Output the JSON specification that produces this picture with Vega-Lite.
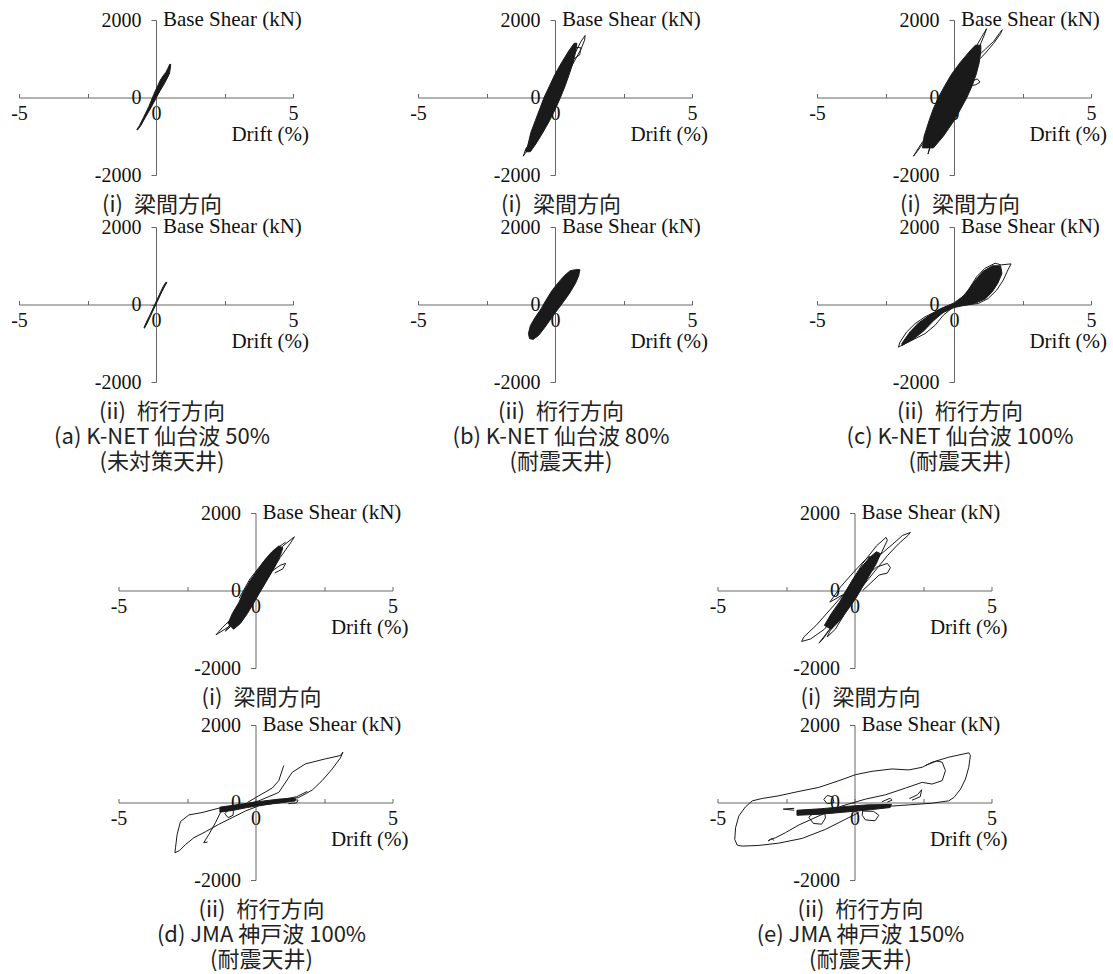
{
  "$schema": "https://vega.github.io/schema/vega-lite/v6.json",
  "background": "white",
  "padding": {"left": 10, "top": 9, "right": 5, "bottom": 5},
  "config": {"view": {"stroke": null}, "font": "Liberation Serif"},
  "datasets": {
    "top": [
      {"case": "a", "dir": "i", "caption": "(i)\u2002梁間方向"},
      {"case": "a", "dir": "ii", "caption": "(ii)\u2002桁行方向\n(a) K-NET 仙台波 50%\n(未対策天井)"},
      {"case": "b", "dir": "i", "caption": "(i)\u2002梁間方向"},
      {"case": "b", "dir": "ii", "caption": "(ii)\u2002桁行方向\n(b) K-NET 仙台波 80%\n(耐震天井)"},
      {"case": "c", "dir": "i", "caption": "(i)\u2002梁間方向"},
      {"case": "c", "dir": "ii", "caption": "(ii)\u2002桁行方向\n(c) K-NET 仙台波 100%\n(耐震天井)"},

      {"case": "a", "dir": "i", "seg": "a1c", "part": "core", "drift": -0.67, "shear": -835},
      {"case": "a", "dir": "i", "seg": "a1c", "part": "core", "drift": -0.55, "shear": -720},
      {"case": "a", "dir": "i", "seg": "a1c", "part": "core", "drift": -0.38, "shear": -500},
      {"case": "a", "dir": "i", "seg": "a1c", "part": "core", "drift": -0.18, "shear": -260},
      {"case": "a", "dir": "i", "seg": "a1c", "part": "core", "drift": 0.0, "shear": -20},
      {"case": "a", "dir": "i", "seg": "a1c", "part": "core", "drift": 0.15, "shear": 180},
      {"case": "a", "dir": "i", "seg": "a1c", "part": "core", "drift": 0.3, "shear": 380},
      {"case": "a", "dir": "i", "seg": "a1c", "part": "core", "drift": 0.42, "shear": 520},
      {"case": "a", "dir": "i", "seg": "a1c", "part": "core", "drift": 0.5, "shear": 650},
      {"case": "a", "dir": "i", "seg": "a1c", "part": "core", "drift": 0.54, "shear": 850},
      {"case": "a", "dir": "i", "seg": "a1c", "part": "core", "drift": 0.5, "shear": 860},
      {"case": "a", "dir": "i", "seg": "a1c", "part": "core", "drift": 0.44, "shear": 760},
      {"case": "a", "dir": "i", "seg": "a1c", "part": "core", "drift": 0.36, "shear": 650},
      {"case": "a", "dir": "i", "seg": "a1c", "part": "core", "drift": 0.26, "shear": 560},
      {"case": "a", "dir": "i", "seg": "a1c", "part": "core", "drift": 0.16, "shear": 450},
      {"case": "a", "dir": "i", "seg": "a1c", "part": "core", "drift": 0.06, "shear": 300},
      {"case": "a", "dir": "i", "seg": "a1c", "part": "core", "drift": -0.08, "shear": 80},
      {"case": "a", "dir": "i", "seg": "a1c", "part": "core", "drift": -0.26, "shear": -230},
      {"case": "a", "dir": "i", "seg": "a1c", "part": "core", "drift": -0.46, "shear": -520},
      {"case": "a", "dir": "i", "seg": "a1c", "part": "core", "drift": -0.6, "shear": -720},
      {"case": "a", "dir": "i", "seg": "a1c", "part": "core", "drift": -0.7, "shear": -830},
      {"case": "a", "dir": "i", "seg": "a1c", "part": "core", "drift": -0.67, "shear": -835},
      {"case": "a", "dir": "i", "seg": "a1l", "part": "loop", "drift": -0.1, "shear": -100},
      {"case": "a", "dir": "i", "seg": "a1l", "part": "loop", "drift": 0.3, "shear": 350},
      {"case": "a", "dir": "i", "seg": "a1l", "part": "loop", "drift": 0.45, "shear": 560},
      {"case": "a", "dir": "i", "seg": "a1l", "part": "loop", "drift": 0.5, "shear": 640},
      {"case": "a", "dir": "i", "seg": "a1l", "part": "loop", "drift": 0.42, "shear": 600},
      {"case": "a", "dir": "i", "seg": "a1l", "part": "loop", "drift": 0.2, "shear": 300},
      {"case": "a", "dir": "i", "seg": "a1l", "part": "loop", "drift": -0.1, "shear": -100},

      {"case": "a", "dir": "ii", "seg": "a2c", "part": "core", "drift": -0.42, "shear": -610},
      {"case": "a", "dir": "ii", "seg": "a2c", "part": "core", "drift": -0.32, "shear": -480},
      {"case": "a", "dir": "ii", "seg": "a2c", "part": "core", "drift": -0.15, "shear": -220},
      {"case": "a", "dir": "ii", "seg": "a2c", "part": "core", "drift": 0.05, "shear": 80},
      {"case": "a", "dir": "ii", "seg": "a2c", "part": "core", "drift": 0.22, "shear": 340},
      {"case": "a", "dir": "ii", "seg": "a2c", "part": "core", "drift": 0.34, "shear": 500},
      {"case": "a", "dir": "ii", "seg": "a2c", "part": "core", "drift": 0.4, "shear": 570},
      {"case": "a", "dir": "ii", "seg": "a2c", "part": "core", "drift": 0.36, "shear": 575},
      {"case": "a", "dir": "ii", "seg": "a2c", "part": "core", "drift": 0.26, "shear": 460},
      {"case": "a", "dir": "ii", "seg": "a2c", "part": "core", "drift": 0.12, "shear": 250},
      {"case": "a", "dir": "ii", "seg": "a2c", "part": "core", "drift": -0.05, "shear": -10},
      {"case": "a", "dir": "ii", "seg": "a2c", "part": "core", "drift": -0.22, "shear": -270},
      {"case": "a", "dir": "ii", "seg": "a2c", "part": "core", "drift": -0.36, "shear": -470},
      {"case": "a", "dir": "ii", "seg": "a2c", "part": "core", "drift": -0.44, "shear": -600},
      {"case": "a", "dir": "ii", "seg": "a2c", "part": "core", "drift": -0.42, "shear": -610},

      {"case": "b", "dir": "i", "seg": "b1c", "part": "core", "drift": -1.05, "shear": -1400},
      {"case": "b", "dir": "i", "seg": "b1c", "part": "core", "drift": -0.98, "shear": -1200},
      {"case": "b", "dir": "i", "seg": "b1c", "part": "core", "drift": -0.88, "shear": -900},
      {"case": "b", "dir": "i", "seg": "b1c", "part": "core", "drift": -0.72, "shear": -600},
      {"case": "b", "dir": "i", "seg": "b1c", "part": "core", "drift": -0.56, "shear": -300},
      {"case": "b", "dir": "i", "seg": "b1c", "part": "core", "drift": -0.4, "shear": 0},
      {"case": "b", "dir": "i", "seg": "b1c", "part": "core", "drift": -0.2, "shear": 300},
      {"case": "b", "dir": "i", "seg": "b1c", "part": "core", "drift": 0.0, "shear": 600},
      {"case": "b", "dir": "i", "seg": "b1c", "part": "core", "drift": 0.24, "shear": 900},
      {"case": "b", "dir": "i", "seg": "b1c", "part": "core", "drift": 0.5, "shear": 1200},
      {"case": "b", "dir": "i", "seg": "b1c", "part": "core", "drift": 0.7, "shear": 1400},
      {"case": "b", "dir": "i", "seg": "b1c", "part": "core", "drift": 0.8, "shear": 1400},
      {"case": "b", "dir": "i", "seg": "b1c", "part": "core", "drift": 0.76, "shear": 1200},
      {"case": "b", "dir": "i", "seg": "b1c", "part": "core", "drift": 0.66, "shear": 900},
      {"case": "b", "dir": "i", "seg": "b1c", "part": "core", "drift": 0.52, "shear": 600},
      {"case": "b", "dir": "i", "seg": "b1c", "part": "core", "drift": 0.37, "shear": 300},
      {"case": "b", "dir": "i", "seg": "b1c", "part": "core", "drift": 0.2, "shear": 0},
      {"case": "b", "dir": "i", "seg": "b1c", "part": "core", "drift": 0.01, "shear": -300},
      {"case": "b", "dir": "i", "seg": "b1c", "part": "core", "drift": -0.2, "shear": -600},
      {"case": "b", "dir": "i", "seg": "b1c", "part": "core", "drift": -0.44, "shear": -900},
      {"case": "b", "dir": "i", "seg": "b1c", "part": "core", "drift": -0.7, "shear": -1200},
      {"case": "b", "dir": "i", "seg": "b1c", "part": "core", "drift": -0.9, "shear": -1400},
      {"case": "b", "dir": "i", "seg": "b1c", "part": "core", "drift": -1.05, "shear": -1400},
      {"case": "b", "dir": "i", "seg": "b1a", "part": "loop", "drift": -0.35, "shear": -400},
      {"case": "b", "dir": "i", "seg": "b1a", "part": "loop", "drift": -0.75, "shear": -1000},
      {"case": "b", "dir": "i", "seg": "b1a", "part": "loop", "drift": -1.0, "shear": -1350},
      {"case": "b", "dir": "i", "seg": "b1a", "part": "loop", "drift": -1.16, "shear": -1515},
      {"case": "b", "dir": "i", "seg": "b1a", "part": "loop", "drift": -1.1, "shear": -1400},
      {"case": "b", "dir": "i", "seg": "b1a", "part": "loop", "drift": -0.85, "shear": -1050},
      {"case": "b", "dir": "i", "seg": "b1a", "part": "loop", "drift": -0.5, "shear": -550},
      {"case": "b", "dir": "i", "seg": "b1b", "part": "loop", "drift": 0.3, "shear": 500},
      {"case": "b", "dir": "i", "seg": "b1b", "part": "loop", "drift": 0.7, "shear": 1100},
      {"case": "b", "dir": "i", "seg": "b1b", "part": "loop", "drift": 0.95, "shear": 1450},
      {"case": "b", "dir": "i", "seg": "b1b", "part": "loop", "drift": 1.1, "shear": 1600},
      {"case": "b", "dir": "i", "seg": "b1b", "part": "loop", "drift": 1.08, "shear": 1480},
      {"case": "b", "dir": "i", "seg": "b1b", "part": "loop", "drift": 0.95, "shear": 1250},
      {"case": "b", "dir": "i", "seg": "b1b", "part": "loop", "drift": 0.6, "shear": 800},
      {"case": "b", "dir": "i", "seg": "b1e", "part": "loop", "drift": 0.55, "shear": 1000},
      {"case": "b", "dir": "i", "seg": "b1e", "part": "loop", "drift": 0.6, "shear": 1200},
      {"case": "b", "dir": "i", "seg": "b1e", "part": "loop", "drift": 0.75, "shear": 1300},
      {"case": "b", "dir": "i", "seg": "b1e", "part": "loop", "drift": 0.95, "shear": 1280},
      {"case": "b", "dir": "i", "seg": "b1e", "part": "loop", "drift": 0.9, "shear": 1100},
      {"case": "b", "dir": "i", "seg": "b1e", "part": "loop", "drift": 0.7, "shear": 1000},
      {"case": "b", "dir": "i", "seg": "b1e", "part": "loop", "drift": 0.55, "shear": 1000},
      {"case": "b", "dir": "i", "seg": "b1d", "part": "loop", "drift": -0.7, "shear": -1100},
      {"case": "b", "dir": "i", "seg": "b1d", "part": "loop", "drift": -0.9, "shear": -1250},
      {"case": "b", "dir": "i", "seg": "b1d", "part": "loop", "drift": -1.1, "shear": -1390},
      {"case": "b", "dir": "i", "seg": "b1d", "part": "loop", "drift": -1.05, "shear": -1300},
      {"case": "b", "dir": "i", "seg": "b1d", "part": "loop", "drift": -0.85, "shear": -1150},

      {"case": "c", "dir": "i", "seg": "c1c", "part": "core", "drift": -1.15, "shear": -1300},
      {"case": "c", "dir": "i", "seg": "c1c", "part": "core", "drift": -1.09, "shear": -1000},
      {"case": "c", "dir": "i", "seg": "c1c", "part": "core", "drift": -0.91, "shear": -600},
      {"case": "c", "dir": "i", "seg": "c1c", "part": "core", "drift": -0.76, "shear": -300},
      {"case": "c", "dir": "i", "seg": "c1c", "part": "core", "drift": -0.57, "shear": 0},
      {"case": "c", "dir": "i", "seg": "c1c", "part": "core", "drift": -0.34, "shear": 300},
      {"case": "c", "dir": "i", "seg": "c1c", "part": "core", "drift": -0.09, "shear": 600},
      {"case": "c", "dir": "i", "seg": "c1c", "part": "core", "drift": 0.22, "shear": 900},
      {"case": "c", "dir": "i", "seg": "c1c", "part": "core", "drift": 0.58, "shear": 1200},
      {"case": "c", "dir": "i", "seg": "c1c", "part": "core", "drift": 0.78, "shear": 1350},
      {"case": "c", "dir": "i", "seg": "c1c", "part": "core", "drift": 0.98, "shear": 1350},
      {"case": "c", "dir": "i", "seg": "c1c", "part": "core", "drift": 0.98, "shear": 1200},
      {"case": "c", "dir": "i", "seg": "c1c", "part": "core", "drift": 0.92, "shear": 900},
      {"case": "c", "dir": "i", "seg": "c1c", "part": "core", "drift": 0.81, "shear": 600},
      {"case": "c", "dir": "i", "seg": "c1c", "part": "core", "drift": 0.66, "shear": 300},
      {"case": "c", "dir": "i", "seg": "c1c", "part": "core", "drift": 0.47, "shear": 0},
      {"case": "c", "dir": "i", "seg": "c1c", "part": "core", "drift": 0.24, "shear": -300},
      {"case": "c", "dir": "i", "seg": "c1c", "part": "core", "drift": 0.0, "shear": -600},
      {"case": "c", "dir": "i", "seg": "c1c", "part": "core", "drift": -0.39, "shear": -1000},
      {"case": "c", "dir": "i", "seg": "c1c", "part": "core", "drift": -0.75, "shear": -1300},
      {"case": "c", "dir": "i", "seg": "c1c", "part": "core", "drift": -1.15, "shear": -1300},
      {"case": "c", "dir": "i", "seg": "c1a", "part": "loop", "drift": 0.5, "shear": 900},
      {"case": "c", "dir": "i", "seg": "c1a", "part": "loop", "drift": 0.75, "shear": 1250},
      {"case": "c", "dir": "i", "seg": "c1a", "part": "loop", "drift": 1.0, "shear": 1550},
      {"case": "c", "dir": "i", "seg": "c1a", "part": "loop", "drift": 1.19, "shear": 1775},
      {"case": "c", "dir": "i", "seg": "c1a", "part": "loop", "drift": 1.1, "shear": 1600},
      {"case": "c", "dir": "i", "seg": "c1a", "part": "loop", "drift": 0.95, "shear": 1350},
      {"case": "c", "dir": "i", "seg": "c1a", "part": "loop", "drift": 0.75, "shear": 1100},
      {"case": "c", "dir": "i", "seg": "c1b", "part": "loop", "drift": 0.85, "shear": 1050},
      {"case": "c", "dir": "i", "seg": "c1b", "part": "loop", "drift": 1.15, "shear": 1250},
      {"case": "c", "dir": "i", "seg": "c1b", "part": "loop", "drift": 1.45, "shear": 1450},
      {"case": "c", "dir": "i", "seg": "c1b", "part": "loop", "drift": 1.65, "shear": 1650},
      {"case": "c", "dir": "i", "seg": "c1b", "part": "loop", "drift": 1.76, "shear": 1750},
      {"case": "c", "dir": "i", "seg": "c1b", "part": "loop", "drift": 1.7, "shear": 1650},
      {"case": "c", "dir": "i", "seg": "c1b", "part": "loop", "drift": 1.45, "shear": 1400},
      {"case": "c", "dir": "i", "seg": "c1b", "part": "loop", "drift": 1.15, "shear": 1150},
      {"case": "c", "dir": "i", "seg": "c1b", "part": "loop", "drift": 0.95, "shear": 1000},
      {"case": "c", "dir": "i", "seg": "c1d", "part": "loop", "drift": -0.8, "shear": -800},
      {"case": "c", "dir": "i", "seg": "c1d", "part": "loop", "drift": -1.1, "shear": -1150},
      {"case": "c", "dir": "i", "seg": "c1d", "part": "loop", "drift": -1.35, "shear": -1400},
      {"case": "c", "dir": "i", "seg": "c1d", "part": "loop", "drift": -1.48, "shear": -1515},
      {"case": "c", "dir": "i", "seg": "c1d", "part": "loop", "drift": -1.4, "shear": -1420},
      {"case": "c", "dir": "i", "seg": "c1d", "part": "loop", "drift": -1.2, "shear": -1200},
      {"case": "c", "dir": "i", "seg": "c1d", "part": "loop", "drift": -0.95, "shear": -950},
      {"case": "c", "dir": "i", "seg": "c1e", "part": "loop", "drift": -0.6, "shear": -800},
      {"case": "c", "dir": "i", "seg": "c1e", "part": "loop", "drift": -0.85, "shear": -1200},
      {"case": "c", "dir": "i", "seg": "c1e", "part": "loop", "drift": -0.95, "shear": -1460},
      {"case": "c", "dir": "i", "seg": "c1e", "part": "loop", "drift": -0.88, "shear": -1300},
      {"case": "c", "dir": "i", "seg": "c1e", "part": "loop", "drift": -0.78, "shear": -1100},
      {"case": "c", "dir": "i", "seg": "c1f", "part": "loop", "drift": 0.6, "shear": 400},
      {"case": "c", "dir": "i", "seg": "c1f", "part": "loop", "drift": 0.85, "shear": 480},
      {"case": "c", "dir": "i", "seg": "c1f", "part": "loop", "drift": 0.95, "shear": 400},
      {"case": "c", "dir": "i", "seg": "c1f", "part": "loop", "drift": 0.8, "shear": 330},
      {"case": "c", "dir": "i", "seg": "c1f", "part": "loop", "drift": 0.6, "shear": 300},

      {"case": "b", "dir": "ii", "seg": "b2c", "part": "core", "drift": -0.93, "shear": -880},
      {"case": "b", "dir": "ii", "seg": "b2c", "part": "core", "drift": -0.97, "shear": -750},
      {"case": "b", "dir": "ii", "seg": "b2c", "part": "core", "drift": -0.9, "shear": -550},
      {"case": "b", "dir": "ii", "seg": "b2c", "part": "core", "drift": -0.74, "shear": -350},
      {"case": "b", "dir": "ii", "seg": "b2c", "part": "core", "drift": -0.5, "shear": -100},
      {"case": "b", "dir": "ii", "seg": "b2c", "part": "core", "drift": -0.34, "shear": 100},
      {"case": "b", "dir": "ii", "seg": "b2c", "part": "core", "drift": -0.12, "shear": 350},
      {"case": "b", "dir": "ii", "seg": "b2c", "part": "core", "drift": 0.1, "shear": 550},
      {"case": "b", "dir": "ii", "seg": "b2c", "part": "core", "drift": 0.35, "shear": 750},
      {"case": "b", "dir": "ii", "seg": "b2c", "part": "core", "drift": 0.55, "shear": 870},
      {"case": "b", "dir": "ii", "seg": "b2c", "part": "core", "drift": 0.75, "shear": 900},
      {"case": "b", "dir": "ii", "seg": "b2c", "part": "core", "drift": 0.9, "shear": 900},
      {"case": "b", "dir": "ii", "seg": "b2c", "part": "core", "drift": 0.87, "shear": 750},
      {"case": "b", "dir": "ii", "seg": "b2c", "part": "core", "drift": 0.75, "shear": 550},
      {"case": "b", "dir": "ii", "seg": "b2c", "part": "core", "drift": 0.54, "shear": 300},
      {"case": "b", "dir": "ii", "seg": "b2c", "part": "core", "drift": 0.34, "shear": 100},
      {"case": "b", "dir": "ii", "seg": "b2c", "part": "core", "drift": 0.13, "shear": -100},
      {"case": "b", "dir": "ii", "seg": "b2c", "part": "core", "drift": -0.13, "shear": -350},
      {"case": "b", "dir": "ii", "seg": "b2c", "part": "core", "drift": -0.38, "shear": -600},
      {"case": "b", "dir": "ii", "seg": "b2c", "part": "core", "drift": -0.6, "shear": -800},
      {"case": "b", "dir": "ii", "seg": "b2c", "part": "core", "drift": -0.8, "shear": -900},
      {"case": "b", "dir": "ii", "seg": "b2c", "part": "core", "drift": -0.93, "shear": -880},
      {"case": "b", "dir": "ii", "seg": "b2a", "part": "loop", "drift": 0.4, "shear": 600},
      {"case": "b", "dir": "ii", "seg": "b2a", "part": "loop", "drift": 0.7, "shear": 850},
      {"case": "b", "dir": "ii", "seg": "b2a", "part": "loop", "drift": 0.91, "shear": 890},
      {"case": "b", "dir": "ii", "seg": "b2a", "part": "loop", "drift": 0.85, "shear": 800},
      {"case": "b", "dir": "ii", "seg": "b2a", "part": "loop", "drift": 0.6, "shear": 650},

      {"case": "c", "dir": "ii", "seg": "c2c", "part": "core", "drift": -1.9, "shear": -1000},
      {"case": "c", "dir": "ii", "seg": "c2c", "part": "core", "drift": -1.6, "shear": -700},
      {"case": "c", "dir": "ii", "seg": "c2c", "part": "core", "drift": -1.3, "shear": -480},
      {"case": "c", "dir": "ii", "seg": "c2c", "part": "core", "drift": -0.9, "shear": -280},
      {"case": "c", "dir": "ii", "seg": "c2c", "part": "core", "drift": -0.5, "shear": -110},
      {"case": "c", "dir": "ii", "seg": "c2c", "part": "core", "drift": 0.0, "shear": 40},
      {"case": "c", "dir": "ii", "seg": "c2c", "part": "core", "drift": 0.4, "shear": 250},
      {"case": "c", "dir": "ii", "seg": "c2c", "part": "core", "drift": 0.75, "shear": 600},
      {"case": "c", "dir": "ii", "seg": "c2c", "part": "core", "drift": 1.05, "shear": 850},
      {"case": "c", "dir": "ii", "seg": "c2c", "part": "core", "drift": 1.4, "shear": 1000},
      {"case": "c", "dir": "ii", "seg": "c2c", "part": "core", "drift": 1.7, "shear": 1000},
      {"case": "c", "dir": "ii", "seg": "c2c", "part": "core", "drift": 1.75, "shear": 800},
      {"case": "c", "dir": "ii", "seg": "c2c", "part": "core", "drift": 1.6, "shear": 550},
      {"case": "c", "dir": "ii", "seg": "c2c", "part": "core", "drift": 1.4, "shear": 330},
      {"case": "c", "dir": "ii", "seg": "c2c", "part": "core", "drift": 1.15, "shear": 150},
      {"case": "c", "dir": "ii", "seg": "c2c", "part": "core", "drift": 0.8, "shear": 40},
      {"case": "c", "dir": "ii", "seg": "c2c", "part": "core", "drift": 0.4, "shear": -20},
      {"case": "c", "dir": "ii", "seg": "c2c", "part": "core", "drift": 0.0, "shear": -80},
      {"case": "c", "dir": "ii", "seg": "c2c", "part": "core", "drift": -0.4, "shear": -210},
      {"case": "c", "dir": "ii", "seg": "c2c", "part": "core", "drift": -0.75, "shear": -420},
      {"case": "c", "dir": "ii", "seg": "c2c", "part": "core", "drift": -1.1, "shear": -680},
      {"case": "c", "dir": "ii", "seg": "c2c", "part": "core", "drift": -1.5, "shear": -900},
      {"case": "c", "dir": "ii", "seg": "c2c", "part": "core", "drift": -1.9, "shear": -1060},
      {"case": "c", "dir": "ii", "seg": "c2c", "part": "core", "drift": -1.9, "shear": -1000},
      {"case": "c", "dir": "ii", "seg": "c2u", "part": "loop", "drift": 0.16, "shear": 69},
      {"case": "c", "dir": "ii", "seg": "c2u", "part": "loop", "drift": 0.52, "shear": 372},
      {"case": "c", "dir": "ii", "seg": "c2u", "part": "loop", "drift": 0.83, "shear": 719},
      {"case": "c", "dir": "ii", "seg": "c2u", "part": "loop", "drift": 1.13, "shear": 935},
      {"case": "c", "dir": "ii", "seg": "c2u", "part": "loop", "drift": 1.5, "shear": 1065},
      {"case": "c", "dir": "ii", "seg": "c2u", "part": "loop", "drift": 1.72, "shear": 1022},
      {"case": "c", "dir": "ii", "seg": "c2u", "part": "loop", "drift": 2.08, "shear": 1048},
      {"case": "c", "dir": "ii", "seg": "c2u", "part": "loop", "drift": 1.98, "shear": 909},
      {"case": "c", "dir": "ii", "seg": "c2u", "part": "loop", "drift": 1.8, "shear": 632},
      {"case": "c", "dir": "ii", "seg": "c2u", "part": "loop", "drift": 1.56, "shear": 372},
      {"case": "c", "dir": "ii", "seg": "c2u", "part": "loop", "drift": 1.25, "shear": 156},
      {"case": "c", "dir": "ii", "seg": "c2u", "part": "loop", "drift": 0.89, "shear": 26},
      {"case": "c", "dir": "ii", "seg": "c2u", "part": "loop", "drift": 0.4, "shear": -17},
      {"case": "c", "dir": "ii", "seg": "c2l", "part": "loop", "drift": -0.21, "shear": -61},
      {"case": "c", "dir": "ii", "seg": "c2l", "part": "loop", "drift": -0.57, "shear": -147},
      {"case": "c", "dir": "ii", "seg": "c2l", "part": "loop", "drift": -1.06, "shear": -320},
      {"case": "c", "dir": "ii", "seg": "c2l", "part": "loop", "drift": -1.42, "shear": -494},
      {"case": "c", "dir": "ii", "seg": "c2l", "part": "loop", "drift": -1.73, "shear": -710},
      {"case": "c", "dir": "ii", "seg": "c2l", "part": "loop", "drift": -1.97, "shear": -970},
      {"case": "c", "dir": "ii", "seg": "c2l", "part": "loop", "drift": -2.03, "shear": -1100},
      {"case": "c", "dir": "ii", "seg": "c2l", "part": "loop", "drift": -1.79, "shear": -1013},
      {"case": "c", "dir": "ii", "seg": "c2l", "part": "loop", "drift": -1.42, "shear": -883},
      {"case": "c", "dir": "ii", "seg": "c2l", "part": "loop", "drift": -1.06, "shear": -753},
      {"case": "c", "dir": "ii", "seg": "c2l", "part": "loop", "drift": -0.69, "shear": -537},
      {"case": "c", "dir": "ii", "seg": "c2l", "part": "loop", "drift": -0.39, "shear": -277},
      {"case": "c", "dir": "ii", "seg": "c2l", "part": "loop", "drift": -0.09, "shear": -104}
    ],
    "bottom": [
      {"case": "d", "dir": "i", "caption": "(i)\u2002梁間方向"},
      {"case": "d", "dir": "ii", "caption": "(ii)\u2002桁行方向\n(d) JMA 神戸波 100%\n(耐震天井)"},
      {"case": "e", "dir": "i", "caption": "(i)\u2002梁間方向"},
      {"case": "e", "dir": "ii", "caption": "(ii)\u2002桁行方向\n(e) JMA 神戸波 150%\n(耐震天井)"},

      {"case": "d", "dir": "i", "seg": "d1c", "part": "core", "drift": -1.0, "shear": -850},
      {"case": "d", "dir": "i", "seg": "d1c", "part": "core", "drift": -0.85, "shear": -600},
      {"case": "d", "dir": "i", "seg": "d1c", "part": "core", "drift": -0.6, "shear": -300},
      {"case": "d", "dir": "i", "seg": "d1c", "part": "core", "drift": -0.45, "shear": -50},
      {"case": "d", "dir": "i", "seg": "d1c", "part": "core", "drift": -0.2, "shear": 250},
      {"case": "d", "dir": "i", "seg": "d1c", "part": "core", "drift": 0.05, "shear": 500},
      {"case": "d", "dir": "i", "seg": "d1c", "part": "core", "drift": 0.35, "shear": 800},
      {"case": "d", "dir": "i", "seg": "d1c", "part": "core", "drift": 0.6, "shear": 1000},
      {"case": "d", "dir": "i", "seg": "d1c", "part": "core", "drift": 0.85, "shear": 1150},
      {"case": "d", "dir": "i", "seg": "d1c", "part": "core", "drift": 1.0, "shear": 1100},
      {"case": "d", "dir": "i", "seg": "d1c", "part": "core", "drift": 0.9, "shear": 900},
      {"case": "d", "dir": "i", "seg": "d1c", "part": "core", "drift": 0.7, "shear": 600},
      {"case": "d", "dir": "i", "seg": "d1c", "part": "core", "drift": 0.45, "shear": 300},
      {"case": "d", "dir": "i", "seg": "d1c", "part": "core", "drift": 0.2, "shear": 0},
      {"case": "d", "dir": "i", "seg": "d1c", "part": "core", "drift": -0.05, "shear": -300},
      {"case": "d", "dir": "i", "seg": "d1c", "part": "core", "drift": -0.3, "shear": -600},
      {"case": "d", "dir": "i", "seg": "d1c", "part": "core", "drift": -0.55, "shear": -850},
      {"case": "d", "dir": "i", "seg": "d1c", "part": "core", "drift": -0.8, "shear": -1000},
      {"case": "d", "dir": "i", "seg": "d1c", "part": "core", "drift": -1.0, "shear": -850},
      {"case": "d", "dir": "i", "seg": "d1a", "part": "loop", "drift": 0.0, "shear": 200},
      {"case": "d", "dir": "i", "seg": "d1a", "part": "loop", "drift": 0.6, "shear": 800},
      {"case": "d", "dir": "i", "seg": "d1a", "part": "loop", "drift": 1.0, "shear": 1150},
      {"case": "d", "dir": "i", "seg": "d1a", "part": "loop", "drift": 1.42, "shear": 1386},
      {"case": "d", "dir": "i", "seg": "d1a", "part": "loop", "drift": 1.3, "shear": 1250},
      {"case": "d", "dir": "i", "seg": "d1a", "part": "loop", "drift": 0.9, "shear": 850},
      {"case": "d", "dir": "i", "seg": "d1a", "part": "loop", "drift": 0.5, "shear": 400},
      {"case": "d", "dir": "i", "seg": "d1a", "part": "loop", "drift": 0.2, "shear": 100},
      {"case": "d", "dir": "i", "seg": "d1b", "part": "loop", "drift": -0.3, "shear": -300},
      {"case": "d", "dir": "i", "seg": "d1b", "part": "loop", "drift": -0.9, "shear": -900},
      {"case": "d", "dir": "i", "seg": "d1b", "part": "loop", "drift": -1.44, "shear": -1143},
      {"case": "d", "dir": "i", "seg": "d1b", "part": "loop", "drift": -1.2, "shear": -950},
      {"case": "d", "dir": "i", "seg": "d1b", "part": "loop", "drift": -0.7, "shear": -600},
      {"case": "d", "dir": "i", "seg": "d1b", "part": "loop", "drift": -0.4, "shear": -350},
      {"case": "d", "dir": "i", "seg": "d1d", "part": "loop", "drift": -0.2, "shear": -200},
      {"case": "d", "dir": "i", "seg": "d1d", "part": "loop", "drift": -0.7, "shear": -800},
      {"case": "d", "dir": "i", "seg": "d1d", "part": "loop", "drift": -1.1, "shear": -1050},
      {"case": "d", "dir": "i", "seg": "d1d", "part": "loop", "drift": -0.9, "shear": -850},
      {"case": "d", "dir": "i", "seg": "d1d", "part": "loop", "drift": -0.5, "shear": -450},
      {"case": "d", "dir": "i", "seg": "d1e", "part": "loop", "drift": -0.6, "shear": -200},
      {"case": "d", "dir": "i", "seg": "d1e", "part": "loop", "drift": -0.2, "shear": 300},
      {"case": "d", "dir": "i", "seg": "d1e", "part": "loop", "drift": 0.3, "shear": 750},
      {"case": "d", "dir": "i", "seg": "d1e", "part": "loop", "drift": 0.8, "shear": 1100},
      {"case": "d", "dir": "i", "seg": "d1e", "part": "loop", "drift": 1.1, "shear": 1250},
      {"case": "d", "dir": "i", "seg": "d1f", "part": "loop", "drift": 0.5, "shear": 450},
      {"case": "d", "dir": "i", "seg": "d1f", "part": "loop", "drift": 0.9, "shear": 650},
      {"case": "d", "dir": "i", "seg": "d1f", "part": "loop", "drift": 1.1, "shear": 700},
      {"case": "d", "dir": "i", "seg": "d1f", "part": "loop", "drift": 1.0, "shear": 560},
      {"case": "d", "dir": "i", "seg": "d1f", "part": "loop", "drift": 0.7, "shear": 450},
      {"case": "d", "dir": "i", "seg": "d1g", "part": "loop", "drift": -0.7, "shear": -500},
      {"case": "d", "dir": "i", "seg": "d1g", "part": "loop", "drift": -0.3, "shear": 100},
      {"case": "d", "dir": "i", "seg": "d1g", "part": "loop", "drift": 0.2, "shear": 600},
      {"case": "d", "dir": "i", "seg": "d1g", "part": "loop", "drift": 0.5, "shear": 900},
      {"case": "d", "dir": "i", "seg": "d1g", "part": "loop", "drift": 0.4, "shear": 700},
      {"case": "d", "dir": "i", "seg": "d1g", "part": "loop", "drift": 0.0, "shear": 200},
      {"case": "d", "dir": "i", "seg": "d1g", "part": "loop", "drift": -0.5, "shear": -400},

      {"case": "e", "dir": "i", "seg": "e1c", "part": "core", "drift": -1.1, "shear": -900},
      {"case": "e", "dir": "i", "seg": "e1c", "part": "core", "drift": -0.85, "shear": -600},
      {"case": "e", "dir": "i", "seg": "e1c", "part": "core", "drift": -0.55, "shear": -300},
      {"case": "e", "dir": "i", "seg": "e1c", "part": "core", "drift": -0.3, "shear": 0},
      {"case": "e", "dir": "i", "seg": "e1c", "part": "core", "drift": -0.05, "shear": 300},
      {"case": "e", "dir": "i", "seg": "e1c", "part": "core", "drift": 0.25, "shear": 600},
      {"case": "e", "dir": "i", "seg": "e1c", "part": "core", "drift": 0.55, "shear": 850},
      {"case": "e", "dir": "i", "seg": "e1c", "part": "core", "drift": 0.8, "shear": 1000},
      {"case": "e", "dir": "i", "seg": "e1c", "part": "core", "drift": 0.95, "shear": 950},
      {"case": "e", "dir": "i", "seg": "e1c", "part": "core", "drift": 0.8, "shear": 700},
      {"case": "e", "dir": "i", "seg": "e1c", "part": "core", "drift": 0.55, "shear": 400},
      {"case": "e", "dir": "i", "seg": "e1c", "part": "core", "drift": 0.3, "shear": 100},
      {"case": "e", "dir": "i", "seg": "e1c", "part": "core", "drift": 0.05, "shear": -200},
      {"case": "e", "dir": "i", "seg": "e1c", "part": "core", "drift": -0.2, "shear": -450},
      {"case": "e", "dir": "i", "seg": "e1c", "part": "core", "drift": -0.5, "shear": -750},
      {"case": "e", "dir": "i", "seg": "e1c", "part": "core", "drift": -0.85, "shear": -1000},
      {"case": "e", "dir": "i", "seg": "e1c", "part": "core", "drift": -1.1, "shear": -900},
      {"case": "e", "dir": "i", "seg": "e1a", "part": "loop", "drift": -0.2, "shear": -100},
      {"case": "e", "dir": "i", "seg": "e1a", "part": "loop", "drift": 0.4, "shear": 500},
      {"case": "e", "dir": "i", "seg": "e1a", "part": "loop", "drift": 0.9, "shear": 900},
      {"case": "e", "dir": "i", "seg": "e1a", "part": "loop", "drift": 1.4, "shear": 1200},
      {"case": "e", "dir": "i", "seg": "e1a", "part": "loop", "drift": 1.75, "shear": 1420},
      {"case": "e", "dir": "i", "seg": "e1a", "part": "loop", "drift": 2.04, "shear": 1498},
      {"case": "e", "dir": "i", "seg": "e1a", "part": "loop", "drift": 1.95, "shear": 1420},
      {"case": "e", "dir": "i", "seg": "e1a", "part": "loop", "drift": 1.6, "shear": 1200},
      {"case": "e", "dir": "i", "seg": "e1a", "part": "loop", "drift": 1.2, "shear": 900},
      {"case": "e", "dir": "i", "seg": "e1a", "part": "loop", "drift": 0.8, "shear": 550},
      {"case": "e", "dir": "i", "seg": "e1a", "part": "loop", "drift": 0.4, "shear": 200},
      {"case": "e", "dir": "i", "seg": "e1a", "part": "loop", "drift": 0.0, "shear": -100},
      {"case": "e", "dir": "i", "seg": "e1b", "part": "loop", "drift": -0.3, "shear": 0},
      {"case": "e", "dir": "i", "seg": "e1b", "part": "loop", "drift": 0.3, "shear": 700},
      {"case": "e", "dir": "i", "seg": "e1b", "part": "loop", "drift": 0.8, "shear": 1150},
      {"case": "e", "dir": "i", "seg": "e1b", "part": "loop", "drift": 1.15, "shear": 1370},
      {"case": "e", "dir": "i", "seg": "e1b", "part": "loop", "drift": 1.2, "shear": 1300},
      {"case": "e", "dir": "i", "seg": "e1b", "part": "loop", "drift": 1.0, "shear": 1000},
      {"case": "e", "dir": "i", "seg": "e1b", "part": "loop", "drift": 0.6, "shear": 500},
      {"case": "e", "dir": "i", "seg": "e1b", "part": "loop", "drift": 0.2, "shear": 100},
      {"case": "e", "dir": "i", "seg": "e1e", "part": "loop", "drift": 0.3, "shear": 300},
      {"case": "e", "dir": "i", "seg": "e1e", "part": "loop", "drift": 0.8, "shear": 600},
      {"case": "e", "dir": "i", "seg": "e1e", "part": "loop", "drift": 1.2, "shear": 700},
      {"case": "e", "dir": "i", "seg": "e1e", "part": "loop", "drift": 1.31, "shear": 590},
      {"case": "e", "dir": "i", "seg": "e1e", "part": "loop", "drift": 1.2, "shear": 450},
      {"case": "e", "dir": "i", "seg": "e1e", "part": "loop", "drift": 0.9, "shear": 400},
      {"case": "e", "dir": "i", "seg": "e1e", "part": "loop", "drift": 0.6, "shear": 200},
      {"case": "e", "dir": "i", "seg": "e1e", "part": "loop", "drift": 0.3, "shear": 0},
      {"case": "e", "dir": "i", "seg": "e1d", "part": "loop", "drift": 0.1, "shear": 100},
      {"case": "e", "dir": "i", "seg": "e1d", "part": "loop", "drift": -0.5, "shear": -500},
      {"case": "e", "dir": "i", "seg": "e1d", "part": "loop", "drift": -1.1, "shear": -1000},
      {"case": "e", "dir": "i", "seg": "e1d", "part": "loop", "drift": -1.6, "shear": -1250},
      {"case": "e", "dir": "i", "seg": "e1d", "part": "loop", "drift": -1.93, "shear": -1316},
      {"case": "e", "dir": "i", "seg": "e1d", "part": "loop", "drift": -1.85, "shear": -1200},
      {"case": "e", "dir": "i", "seg": "e1d", "part": "loop", "drift": -1.4, "shear": -900},
      {"case": "e", "dir": "i", "seg": "e1d", "part": "loop", "drift": -0.9, "shear": -500},
      {"case": "e", "dir": "i", "seg": "e1d", "part": "loop", "drift": -0.4, "shear": -100},
      {"case": "e", "dir": "i", "seg": "e1f", "part": "loop", "drift": -0.2, "shear": -300},
      {"case": "e", "dir": "i", "seg": "e1f", "part": "loop", "drift": -0.8, "shear": -900},
      {"case": "e", "dir": "i", "seg": "e1f", "part": "loop", "drift": -1.3, "shear": -1360},
      {"case": "e", "dir": "i", "seg": "e1f", "part": "loop", "drift": -1.15, "shear": -1250},
      {"case": "e", "dir": "i", "seg": "e1f", "part": "loop", "drift": -0.9, "shear": -1000},
      {"case": "e", "dir": "i", "seg": "e1f", "part": "loop", "drift": -0.5, "shear": -600},
      {"case": "e", "dir": "i", "seg": "e1g", "part": "loop", "drift": -0.9, "shear": -300},
      {"case": "e", "dir": "i", "seg": "e1g", "part": "loop", "drift": -0.5, "shear": 100},
      {"case": "e", "dir": "i", "seg": "e1g", "part": "loop", "drift": 0.0, "shear": 500},
      {"case": "e", "dir": "i", "seg": "e1g", "part": "loop", "drift": 0.4, "shear": 800},
      {"case": "e", "dir": "i", "seg": "e1g", "part": "loop", "drift": 0.55, "shear": 880},
      {"case": "e", "dir": "i", "seg": "e1g", "part": "loop", "drift": 0.5, "shear": 750},
      {"case": "e", "dir": "i", "seg": "e1g", "part": "loop", "drift": 0.1, "shear": 350},
      {"case": "e", "dir": "i", "seg": "e1g", "part": "loop", "drift": -0.4, "shear": -100},
      {"case": "e", "dir": "i", "seg": "e1g", "part": "loop", "drift": -0.9, "shear": -300},
      {"case": "e", "dir": "i", "seg": "e1h", "part": "loop", "drift": -0.4, "shear": -650},
      {"case": "e", "dir": "i", "seg": "e1h", "part": "loop", "drift": -0.7, "shear": -1000},
      {"case": "e", "dir": "i", "seg": "e1h", "part": "loop", "drift": -1.0, "shear": -1200},
      {"case": "e", "dir": "i", "seg": "e1h", "part": "loop", "drift": -0.9, "shear": -1050},
      {"case": "e", "dir": "i", "seg": "e1h", "part": "loop", "drift": -0.6, "shear": -750},

      {"case": "d", "dir": "ii", "seg": "d2c", "part": "core", "drift": -1.3, "shear": -250},
      {"case": "d", "dir": "ii", "seg": "d2c", "part": "core", "drift": -0.8, "shear": -200},
      {"case": "d", "dir": "ii", "seg": "d2c", "part": "core", "drift": -0.3, "shear": -130},
      {"case": "d", "dir": "ii", "seg": "d2c", "part": "core", "drift": 0.3, "shear": -60},
      {"case": "d", "dir": "ii", "seg": "d2c", "part": "core", "drift": 0.9, "shear": -10},
      {"case": "d", "dir": "ii", "seg": "d2c", "part": "core", "drift": 1.45, "shear": 40},
      {"case": "d", "dir": "ii", "seg": "d2c", "part": "core", "drift": 1.45, "shear": 110},
      {"case": "d", "dir": "ii", "seg": "d2c", "part": "core", "drift": 0.9, "shear": 90},
      {"case": "d", "dir": "ii", "seg": "d2c", "part": "core", "drift": 0.3, "shear": 40},
      {"case": "d", "dir": "ii", "seg": "d2c", "part": "core", "drift": -0.3, "shear": -20},
      {"case": "d", "dir": "ii", "seg": "d2c", "part": "core", "drift": -0.8, "shear": -70},
      {"case": "d", "dir": "ii", "seg": "d2c", "part": "core", "drift": -1.3, "shear": -120},
      {"case": "d", "dir": "ii", "seg": "d2c", "part": "core", "drift": -1.3, "shear": -250},
      {"case": "d", "dir": "ii", "seg": "d2r", "part": "loop", "drift": -0.73, "shear": -113},
      {"case": "d", "dir": "ii", "seg": "d2r", "part": "loop", "drift": 0.12, "shear": 43},
      {"case": "d", "dir": "ii", "seg": "d2r", "part": "loop", "drift": 0.85, "shear": 260},
      {"case": "d", "dir": "ii", "seg": "d2r", "part": "loop", "drift": 1.34, "shear": 779},
      {"case": "d", "dir": "ii", "seg": "d2r", "part": "loop", "drift": 1.82, "shear": 996},
      {"case": "d", "dir": "ii", "seg": "d2r", "part": "loop", "drift": 2.55, "shear": 1126},
      {"case": "d", "dir": "ii", "seg": "d2r", "part": "loop", "drift": 3.1, "shear": 1212},
      {"case": "d", "dir": "ii", "seg": "d2r", "part": "loop", "drift": 3.19, "shear": 1299},
      {"case": "d", "dir": "ii", "seg": "d2r", "part": "loop", "drift": 3.1, "shear": 1152},
      {"case": "d", "dir": "ii", "seg": "d2r", "part": "loop", "drift": 2.8, "shear": 866},
      {"case": "d", "dir": "ii", "seg": "d2r", "part": "loop", "drift": 2.43, "shear": 563},
      {"case": "d", "dir": "ii", "seg": "d2r", "part": "loop", "drift": 2.07, "shear": 320},
      {"case": "d", "dir": "ii", "seg": "d2r", "part": "loop", "drift": 1.58, "shear": 130},
      {"case": "d", "dir": "ii", "seg": "d2r", "part": "loop", "drift": 1.09, "shear": 61},
      {"case": "d", "dir": "ii", "seg": "d2r", "part": "loop", "drift": 0.49, "shear": 0},
      {"case": "d", "dir": "ii", "seg": "d2r", "part": "loop", "drift": -0.24, "shear": -87},
      {"case": "d", "dir": "ii", "seg": "d2b", "part": "loop", "drift": -0.3, "shear": 0},
      {"case": "d", "dir": "ii", "seg": "d2b", "part": "loop", "drift": 0.12, "shear": 173},
      {"case": "d", "dir": "ii", "seg": "d2b", "part": "loop", "drift": 0.61, "shear": 372},
      {"case": "d", "dir": "ii", "seg": "d2b", "part": "loop", "drift": 0.85, "shear": 563},
      {"case": "d", "dir": "ii", "seg": "d2b", "part": "loop", "drift": 1.03, "shear": 953},
      {"case": "d", "dir": "ii", "seg": "d2l", "part": "loop", "drift": 0.3, "shear": -20},
      {"case": "d", "dir": "ii", "seg": "d2l", "part": "loop", "drift": -0.5, "shear": -80},
      {"case": "d", "dir": "ii", "seg": "d2l", "part": "loop", "drift": -1.34, "shear": -147},
      {"case": "d", "dir": "ii", "seg": "d2l", "part": "loop", "drift": -1.95, "shear": -260},
      {"case": "d", "dir": "ii", "seg": "d2l", "part": "loop", "drift": -2.43, "shear": -320},
      {"case": "d", "dir": "ii", "seg": "d2l", "part": "loop", "drift": -2.74, "shear": -494},
      {"case": "d", "dir": "ii", "seg": "d2l", "part": "loop", "drift": -2.86, "shear": -823},
      {"case": "d", "dir": "ii", "seg": "d2l", "part": "loop", "drift": -2.92, "shear": -1169},
      {"case": "d", "dir": "ii", "seg": "d2l", "part": "loop", "drift": -2.94, "shear": -1299},
      {"case": "d", "dir": "ii", "seg": "d2l", "part": "loop", "drift": -2.77, "shear": -1238},
      {"case": "d", "dir": "ii", "seg": "d2l", "part": "loop", "drift": -2.55, "shear": -1083},
      {"case": "d", "dir": "ii", "seg": "d2l", "part": "loop", "drift": -2.25, "shear": -909},
      {"case": "d", "dir": "ii", "seg": "d2l", "part": "loop", "drift": -1.82, "shear": -753},
      {"case": "d", "dir": "ii", "seg": "d2l", "part": "loop", "drift": -1.34, "shear": -563},
      {"case": "d", "dir": "ii", "seg": "d2l", "part": "loop", "drift": -0.85, "shear": -390},
      {"case": "d", "dir": "ii", "seg": "d2l", "part": "loop", "drift": -0.36, "shear": -217},
      {"case": "d", "dir": "ii", "seg": "d2l", "part": "loop", "drift": 0.12, "shear": -87},
      {"case": "d", "dir": "ii", "seg": "d2l", "part": "loop", "drift": 0.6, "shear": -30},
      {"case": "d", "dir": "ii", "seg": "d2k", "part": "loop", "drift": -1.75, "shear": -1020},
      {"case": "d", "dir": "ii", "seg": "d2k", "part": "loop", "drift": -1.89, "shear": -1039},
      {"case": "d", "dir": "ii", "seg": "d2k", "part": "loop", "drift": -1.7, "shear": -823},
      {"case": "d", "dir": "ii", "seg": "d2k", "part": "loop", "drift": -1.46, "shear": -520},
      {"case": "d", "dir": "ii", "seg": "d2k", "part": "loop", "drift": -1.28, "shear": -260},
      {"case": "d", "dir": "ii", "seg": "d2k", "part": "loop", "drift": -1.09, "shear": -130},
      {"case": "d", "dir": "ii", "seg": "d2k", "part": "loop", "drift": -0.49, "shear": -43},
      {"case": "d", "dir": "ii", "seg": "d2t", "part": "loop", "drift": 0.5, "shear": 30},
      {"case": "d", "dir": "ii", "seg": "d2t", "part": "loop", "drift": 1.0, "shear": 80},
      {"case": "d", "dir": "ii", "seg": "d2t", "part": "loop", "drift": 1.5, "shear": 150},
      {"case": "d", "dir": "ii", "seg": "d2t", "part": "loop", "drift": 1.89, "shear": 286},
      {"case": "d", "dir": "ii", "seg": "d2s", "part": "loop", "drift": 1.2, "shear": -30},
      {"case": "d", "dir": "ii", "seg": "d2s", "part": "loop", "drift": 1.5, "shear": -10},
      {"case": "d", "dir": "ii", "seg": "d2s", "part": "loop", "drift": 1.55, "shear": 60},
      {"case": "d", "dir": "ii", "seg": "d2s", "part": "loop", "drift": 1.3, "shear": 90},
      {"case": "d", "dir": "ii", "seg": "d2o", "part": "loop", "drift": -0.8, "shear": -170},
      {"case": "d", "dir": "ii", "seg": "d2o", "part": "loop", "drift": -1.0, "shear": -200},
      {"case": "d", "dir": "ii", "seg": "d2o", "part": "loop", "drift": -1.12, "shear": -290},
      {"case": "d", "dir": "ii", "seg": "d2o", "part": "loop", "drift": -1.0, "shear": -390},
      {"case": "d", "dir": "ii", "seg": "d2o", "part": "loop", "drift": -0.82, "shear": -330},
      {"case": "d", "dir": "ii", "seg": "d2o", "part": "loop", "drift": -0.8, "shear": -170},

      {"case": "e", "dir": "ii", "seg": "e2c", "part": "core", "drift": -2.1, "shear": -330},
      {"case": "e", "dir": "ii", "seg": "e2c", "part": "core", "drift": -1.2, "shear": -300},
      {"case": "e", "dir": "ii", "seg": "e2c", "part": "core", "drift": -0.4, "shear": -250},
      {"case": "e", "dir": "ii", "seg": "e2c", "part": "core", "drift": 0.4, "shear": -200},
      {"case": "e", "dir": "ii", "seg": "e2c", "part": "core", "drift": 1.3, "shear": -130},
      {"case": "e", "dir": "ii", "seg": "e2c", "part": "core", "drift": 1.35, "shear": -50},
      {"case": "e", "dir": "ii", "seg": "e2c", "part": "core", "drift": 0.5, "shear": -60},
      {"case": "e", "dir": "ii", "seg": "e2c", "part": "core", "drift": -0.3, "shear": -100},
      {"case": "e", "dir": "ii", "seg": "e2c", "part": "core", "drift": -1.2, "shear": -160},
      {"case": "e", "dir": "ii", "seg": "e2c", "part": "core", "drift": -2.1, "shear": -200},
      {"case": "e", "dir": "ii", "seg": "e2c", "part": "core", "drift": -2.1, "shear": -330},
      {"case": "e", "dir": "ii", "seg": "e2o", "part": "loop", "drift": 0.16, "shear": -260},
      {"case": "e", "dir": "ii", "seg": "e2o", "part": "loop", "drift": -0.33, "shear": -433},
      {"case": "e", "dir": "ii", "seg": "e2o", "part": "loop", "drift": -1.06, "shear": -693},
      {"case": "e", "dir": "ii", "seg": "e2o", "part": "loop", "drift": -1.91, "shear": -927},
      {"case": "e", "dir": "ii", "seg": "e2o", "part": "loop", "drift": -2.76, "shear": -1048},
      {"case": "e", "dir": "ii", "seg": "e2o", "part": "loop", "drift": -3.49, "shear": -1108},
      {"case": "e", "dir": "ii", "seg": "e2o", "part": "loop", "drift": -4.1, "shear": -1126},
      {"case": "e", "dir": "ii", "seg": "e2o", "part": "loop", "drift": -4.28, "shear": -1100},
      {"case": "e", "dir": "ii", "seg": "e2o", "part": "loop", "drift": -4.37, "shear": -953},
      {"case": "e", "dir": "ii", "seg": "e2o", "part": "loop", "drift": -4.34, "shear": -650},
      {"case": "e", "dir": "ii", "seg": "e2o", "part": "loop", "drift": -4.22, "shear": -346},
      {"case": "e", "dir": "ii", "seg": "e2o", "part": "loop", "drift": -3.98, "shear": -113},
      {"case": "e", "dir": "ii", "seg": "e2o", "part": "loop", "drift": -3.73, "shear": 43},
      {"case": "e", "dir": "ii", "seg": "e2o", "part": "loop", "drift": -3.37, "shear": 104},
      {"case": "e", "dir": "ii", "seg": "e2o", "part": "loop", "drift": -2.76, "shear": 173},
      {"case": "e", "dir": "ii", "seg": "e2o", "part": "loop", "drift": -2.03, "shear": 286},
      {"case": "e", "dir": "ii", "seg": "e2o", "part": "loop", "drift": -1.3, "shear": 390},
      {"case": "e", "dir": "ii", "seg": "e2o", "part": "loop", "drift": -0.57, "shear": 563},
      {"case": "e", "dir": "ii", "seg": "e2o", "part": "loop", "drift": 0.04, "shear": 719},
      {"case": "e", "dir": "ii", "seg": "e2o", "part": "loop", "drift": 0.64, "shear": 805},
      {"case": "e", "dir": "ii", "seg": "e2o", "part": "loop", "drift": 1.37, "shear": 866},
      {"case": "e", "dir": "ii", "seg": "e2o", "part": "loop", "drift": 1.98, "shear": 840},
      {"case": "e", "dir": "ii", "seg": "e2o", "part": "loop", "drift": 2.47, "shear": 909},
      {"case": "e", "dir": "ii", "seg": "e2o", "part": "loop", "drift": 2.83, "shear": 1039},
      {"case": "e", "dir": "ii", "seg": "e2o", "part": "loop", "drift": 3.44, "shear": 1169},
      {"case": "e", "dir": "ii", "seg": "e2o", "part": "loop", "drift": 4.17, "shear": 1282},
      {"case": "e", "dir": "ii", "seg": "e2o", "part": "loop", "drift": 4.23, "shear": 1212},
      {"case": "e", "dir": "ii", "seg": "e2o", "part": "loop", "drift": 4.17, "shear": 909},
      {"case": "e", "dir": "ii", "seg": "e2o", "part": "loop", "drift": 4.05, "shear": 606},
      {"case": "e", "dir": "ii", "seg": "e2o", "part": "loop", "drift": 3.87, "shear": 346},
      {"case": "e", "dir": "ii", "seg": "e2o", "part": "loop", "drift": 3.63, "shear": 130},
      {"case": "e", "dir": "ii", "seg": "e2o", "part": "loop", "drift": 3.44, "shear": 43},
      {"case": "e", "dir": "ii", "seg": "e2o", "part": "loop", "drift": 2.8, "shear": -20},
      {"case": "e", "dir": "ii", "seg": "e2o", "part": "loop", "drift": 2.0, "shear": -60},
      {"case": "e", "dir": "ii", "seg": "e2o", "part": "loop", "drift": 1.2, "shear": -100},
      {"case": "e", "dir": "ii", "seg": "e2i", "part": "loop", "drift": 2.6, "shear": 960},
      {"case": "e", "dir": "ii", "seg": "e2i", "part": "loop", "drift": 3.0, "shear": 1070},
      {"case": "e", "dir": "ii", "seg": "e2i", "part": "loop", "drift": 3.2, "shear": 1040},
      {"case": "e", "dir": "ii", "seg": "e2i", "part": "loop", "drift": 3.32, "shear": 823},
      {"case": "e", "dir": "ii", "seg": "e2i", "part": "loop", "drift": 3.2, "shear": 563},
      {"case": "e", "dir": "ii", "seg": "e2i", "part": "loop", "drift": 2.83, "shear": 476},
      {"case": "e", "dir": "ii", "seg": "e2i", "part": "loop", "drift": 2.47, "shear": 520},
      {"case": "e", "dir": "ii", "seg": "e2i", "part": "loop", "drift": 1.86, "shear": 372},
      {"case": "e", "dir": "ii", "seg": "e2i", "part": "loop", "drift": 1.13, "shear": 199},
      {"case": "e", "dir": "ii", "seg": "e2i", "part": "loop", "drift": 0.4, "shear": 87},
      {"case": "e", "dir": "ii", "seg": "e2i", "part": "loop", "drift": -0.45, "shear": -87},
      {"case": "e", "dir": "ii", "seg": "e2i", "part": "loop", "drift": -1.3, "shear": -346},
      {"case": "e", "dir": "ii", "seg": "e2i", "part": "loop", "drift": -2.03, "shear": -580},
      {"case": "e", "dir": "ii", "seg": "e2i", "part": "loop", "drift": -2.52, "shear": -779},
      {"case": "e", "dir": "ii", "seg": "e2i", "part": "loop", "drift": -2.88, "shear": -909},
      {"case": "e", "dir": "ii", "seg": "e2i", "part": "loop", "drift": -3.07, "shear": -953},
      {"case": "e", "dir": "ii", "seg": "e2i", "part": "loop", "drift": -3.15, "shear": -990},
      {"case": "e", "dir": "ii", "seg": "e2i", "part": "loop", "drift": -3.0, "shear": -930},
      {"case": "e", "dir": "ii", "seg": "e2i", "part": "loop", "drift": -2.95, "shear": -980},
      {"case": "e", "dir": "ii", "seg": "e2a", "part": "loop", "drift": -1.1, "shear": -220},
      {"case": "e", "dir": "ii", "seg": "e2a", "part": "loop", "drift": -1.45, "shear": -250},
      {"case": "e", "dir": "ii", "seg": "e2a", "part": "loop", "drift": -1.67, "shear": -380},
      {"case": "e", "dir": "ii", "seg": "e2a", "part": "loop", "drift": -1.5, "shear": -540},
      {"case": "e", "dir": "ii", "seg": "e2a", "part": "loop", "drift": -1.2, "shear": -560},
      {"case": "e", "dir": "ii", "seg": "e2a", "part": "loop", "drift": -1.06, "shear": -400},
      {"case": "e", "dir": "ii", "seg": "e2a", "part": "loop", "drift": -1.1, "shear": -220},
      {"case": "e", "dir": "ii", "seg": "e2b", "part": "loop", "drift": 0.3, "shear": -220},
      {"case": "e", "dir": "ii", "seg": "e2b", "part": "loop", "drift": 0.7, "shear": -230},
      {"case": "e", "dir": "ii", "seg": "e2b", "part": "loop", "drift": 0.89, "shear": -330},
      {"case": "e", "dir": "ii", "seg": "e2b", "part": "loop", "drift": 0.75, "shear": -470},
      {"case": "e", "dir": "ii", "seg": "e2b", "part": "loop", "drift": 0.4, "shear": -450},
      {"case": "e", "dir": "ii", "seg": "e2b", "part": "loop", "drift": 0.28, "shear": -330},
      {"case": "e", "dir": "ii", "seg": "e2b", "part": "loop", "drift": 0.3, "shear": -220},
      {"case": "e", "dir": "ii", "seg": "e2d", "part": "loop", "drift": -0.75, "shear": 0},
      {"case": "e", "dir": "ii", "seg": "e2d", "part": "loop", "drift": -0.8, "shear": 150},
      {"case": "e", "dir": "ii", "seg": "e2d", "part": "loop", "drift": -1.0, "shear": 180},
      {"case": "e", "dir": "ii", "seg": "e2d", "part": "loop", "drift": -1.12, "shear": 80},
      {"case": "e", "dir": "ii", "seg": "e2d", "part": "loop", "drift": -1.0, "shear": -30},
      {"case": "e", "dir": "ii", "seg": "e2d", "part": "loop", "drift": -0.75, "shear": 0},
      {"case": "e", "dir": "ii", "seg": "e2e", "part": "loop", "drift": 1.0, "shear": 20},
      {"case": "e", "dir": "ii", "seg": "e2e", "part": "loop", "drift": 1.3, "shear": 110},
      {"case": "e", "dir": "ii", "seg": "e2e", "part": "loop", "drift": 1.37, "shear": 60},
      {"case": "e", "dir": "ii", "seg": "e2e", "part": "loop", "drift": 1.2, "shear": 10},
      {"case": "e", "dir": "ii", "seg": "e2f", "part": "loop", "drift": 2.0, "shear": 100},
      {"case": "e", "dir": "ii", "seg": "e2f", "part": "loop", "drift": 2.3, "shear": 200},
      {"case": "e", "dir": "ii", "seg": "e2f", "part": "loop", "drift": 2.45, "shear": 330},
      {"case": "e", "dir": "ii", "seg": "e2f", "part": "loop", "drift": 2.4, "shear": 150},
      {"case": "e", "dir": "ii", "seg": "e2f", "part": "loop", "drift": 2.1, "shear": 60},
      {"case": "e", "dir": "ii", "seg": "e2g", "part": "loop", "drift": -2.2, "shear": -150},
      {"case": "e", "dir": "ii", "seg": "e2g", "part": "loop", "drift": -2.6, "shear": -170},
      {"case": "e", "dir": "ii", "seg": "e2g", "part": "loop", "drift": -2.2, "shear": -200}
    ]
  },
  "vconcat": [
    {
      "data": {"name": "top"},
      "facet": {
        "row": {"field": "dir", "type": "nominal", "header": null},
        "column": {"field": "case", "type": "nominal", "header": null}
      },
      "spacing": {"row": 52, "column": 125},
      "bounds": "flush",
      "resolve": {"axis": {"x": "independent", "y": "independent"}},
      "spec": {
        "width": 274,
        "height": 155,
        "layer": [
          {
            "transform": [{"filter": "datum.part == 'core'"}],
            "mark": {"type": "line", "fill": "#1a1a1a", "stroke": "#1a1a1a", "strokeWidth": 1, "strokeJoin": "round"},
            "encoding": {
              "x": {"field": "drift", "type": "quantitative", "scale": {"domain": [-5, 5], "nice": false, "zero": false},
                "axis": {"orient": "bottom", "offset": -77.5, "values": [-5, -2.5, 0, 2.5, 5], "labelExpr": "datum.value == -5 ? '-5' : datum.value == 0 ? '0' : datum.value == 5 ? '5' : ''", "tickSize": -4, "labelPadding": 10, "labelFont": "Liberation Serif", "labelFontSize": 20, "labelColor": "#111", "labelFlush": false, "labelOverlap": false, "labelBound": false, "domainColor": "#666", "tickColor": "#666", "grid": false, "title": null}},
              "y": {"field": "shear", "type": "quantitative", "scale": {"domain": [-2000, 2000], "nice": false, "zero": false},
                "axis": {"orient": "left", "offset": -137, "values": [-2000, -1000, 0, 1000, 2000], "labelExpr": "datum.value == 2000 ? '2000' : datum.value == -2000 ? '-2000' : datum.value == 0 ? '0' : ''", "tickSize": 5, "labelPadding": 10, "labelFont": "Liberation Serif", "labelFontSize": 20, "labelColor": "#111", "labelFlush": false, "labelOverlap": false, "labelBound": false, "domainColor": "#666", "tickColor": "#666", "grid": false, "title": null}},
              "detail": {"field": "seg", "type": "nominal"},
              "order": {"value": null}
            }
          },
          {
            "transform": [{"filter": "datum.part == 'loop'"}],
            "mark": {"type": "line", "stroke": "#1a1a1a", "strokeWidth": 1, "strokeJoin": "round"},
            "encoding": {
              "x": {"field": "drift", "type": "quantitative", "scale": {"domain": [-5, 5], "nice": false, "zero": false}},
              "y": {"field": "shear", "type": "quantitative", "scale": {"domain": [-2000, 2000], "nice": false, "zero": false}},
              "detail": {"field": "seg", "type": "nominal"},
              "order": {"value": null}
            }
          },
          {
            "transform": [{"filter": "isValid(datum.caption)"}],
            "mark": {"type": "text", "text": "Base Shear (kN)", "align": "left", "baseline": "middle", "dx": 7, "font": "Liberation Serif", "fontSize": 21, "color": "#111"},
            "encoding": {"x": {"datum": 0, "type": "quantitative"}, "y": {"datum": 2000, "type": "quantitative"}}
          },
          {
            "transform": [{"filter": "isValid(datum.caption)"}],
            "mark": {"type": "text", "text": "Drift (%)", "align": "right", "baseline": "middle", "dx": 16, "dy": 37, "font": "Liberation Serif", "fontSize": 21, "color": "#111"},
            "encoding": {"x": {"datum": 5, "type": "quantitative"}, "y": {"datum": 0, "type": "quantitative"}}
          },
          {
            "transform": [{"filter": "isValid(datum.caption)"}],
            "mark": {"type": "text", "align": "center", "baseline": "top", "dx": 6, "dy": 20, "font": "Noto Sans CJK JP", "fontSize": 22, "lineHeight": 25, "lineBreak": "\n", "color": "#222"},
            "encoding": {"x": {"datum": 0, "type": "quantitative"}, "y": {"datum": -2000, "type": "quantitative"}, "text": {"field": "caption", "type": "nominal"}}
          }
        ]
      }
    },
    {
      "data": {"name": "bottom"},
      "facet": {
        "row": {"field": "dir", "type": "nominal", "header": null},
        "column": {"field": "case", "type": "nominal", "header": null}
      },
      "spacing": {"row": 57, "column": 325},
      "bounds": "flush",
      "resolve": {"axis": {"x": "independent", "y": "independent"}},
      "spec": {
        "width": 274,
        "height": 155,
        "layer": [
          {
            "transform": [{"filter": "datum.part == 'core'"}],
            "mark": {"type": "line", "fill": "#1a1a1a", "stroke": "#1a1a1a", "strokeWidth": 1, "strokeJoin": "round"},
            "encoding": {
              "x": {"field": "drift", "type": "quantitative", "scale": {"domain": [-5, 5], "nice": false, "zero": false},
                "axis": {"orient": "bottom", "offset": -77.5, "values": [-5, -2.5, 0, 2.5, 5], "labelExpr": "datum.value == -5 ? '-5' : datum.value == 0 ? '0' : datum.value == 5 ? '5' : ''", "tickSize": -4, "labelPadding": 10, "labelFont": "Liberation Serif", "labelFontSize": 20, "labelColor": "#111", "labelFlush": false, "labelOverlap": false, "labelBound": false, "domainColor": "#666", "tickColor": "#666", "grid": false, "title": null}},
              "y": {"field": "shear", "type": "quantitative", "scale": {"domain": [-2000, 2000], "nice": false, "zero": false},
                "axis": {"orient": "left", "offset": -137, "values": [-2000, -1000, 0, 1000, 2000], "labelExpr": "datum.value == 2000 ? '2000' : datum.value == -2000 ? '-2000' : datum.value == 0 ? '0' : ''", "tickSize": 5, "labelPadding": 10, "labelFont": "Liberation Serif", "labelFontSize": 20, "labelColor": "#111", "labelFlush": false, "labelOverlap": false, "labelBound": false, "domainColor": "#666", "tickColor": "#666", "grid": false, "title": null}},
              "detail": {"field": "seg", "type": "nominal"},
              "order": {"value": null}
            }
          },
          {
            "transform": [{"filter": "datum.part == 'loop'"}],
            "mark": {"type": "line", "stroke": "#1a1a1a", "strokeWidth": 1, "strokeJoin": "round"},
            "encoding": {
              "x": {"field": "drift", "type": "quantitative", "scale": {"domain": [-5, 5], "nice": false, "zero": false}},
              "y": {"field": "shear", "type": "quantitative", "scale": {"domain": [-2000, 2000], "nice": false, "zero": false}},
              "detail": {"field": "seg", "type": "nominal"},
              "order": {"value": null}
            }
          },
          {
            "transform": [{"filter": "isValid(datum.caption)"}],
            "mark": {"type": "text", "text": "Base Shear (kN)", "align": "left", "baseline": "middle", "dx": 7, "font": "Liberation Serif", "fontSize": 21, "color": "#111"},
            "encoding": {"x": {"datum": 0, "type": "quantitative"}, "y": {"datum": 2000, "type": "quantitative"}}
          },
          {
            "transform": [{"filter": "isValid(datum.caption)"}],
            "mark": {"type": "text", "text": "Drift (%)", "align": "right", "baseline": "middle", "dx": 16, "dy": 37, "font": "Liberation Serif", "fontSize": 21, "color": "#111"},
            "encoding": {"x": {"datum": 5, "type": "quantitative"}, "y": {"datum": 0, "type": "quantitative"}}
          },
          {
            "transform": [{"filter": "isValid(datum.caption)"}],
            "mark": {"type": "text", "align": "center", "baseline": "top", "dx": 6, "dy": 20, "font": "Noto Sans CJK JP", "fontSize": 22, "lineHeight": 25, "lineBreak": "\n", "color": "#222"},
            "encoding": {"x": {"datum": 0, "type": "quantitative"}, "y": {"datum": -2000, "type": "quantitative"}, "text": {"field": "caption", "type": "nominal"}}
          }
        ]
      }
    }
  ],
  "spacing": 29,
  "center": true
}
